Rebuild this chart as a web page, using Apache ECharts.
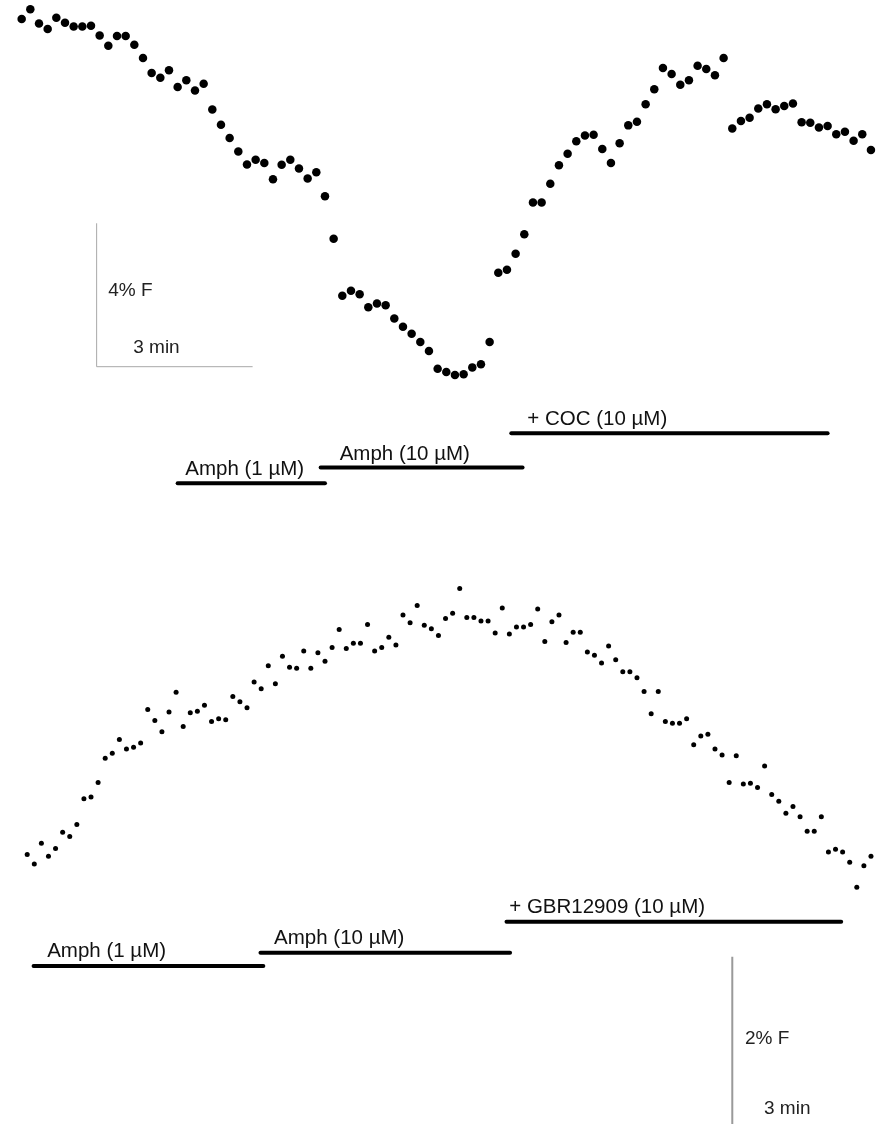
<!DOCTYPE html>
<html>
<head>
<meta charset="utf-8">
<script src="https://cdn.jsdelivr.net/npm/echarts@6/dist/echarts.min.js"></script>
<style>
html,body{margin:0;padding:0;background:#ffffff;}
#chart{width:877px;height:1124px;}
</style>
</head>
<body>
<div id="chart"></div>
<script>
// ---------------- DATA ----------------
// Sampling interval of both recordings (seconds)
const SAMPLE_S = 10;

// Top recording: relative fluorescence (% F), one sample every 10 s
const topF = [
  10.63, 10.90, 10.50, 10.35, 10.66, 10.52, 10.42, 10.42, 10.44, 10.17,
  9.88, 10.15, 10.15, 9.91, 9.54, 9.12, 8.99, 9.20, 8.73, 8.92,
  8.63, 8.82, 8.10, 7.68, 7.31, 6.93, 6.57, 6.70, 6.61, 6.16,
  6.56, 6.70, 6.46, 6.18, 6.35, 5.68, 4.50, 2.91, 3.05, 2.95,
  2.59, 2.69, 2.64, 2.27, 2.04, 1.85, 1.62, 1.37, 0.87, 0.78,
  0.70, 0.72, 0.91, 1.00, 1.62, 3.55, 3.63, 4.08, 4.62, 5.51,
  5.51, 6.03, 6.55, 6.87, 7.22, 7.38, 7.40, 7.00, 6.61, 7.16,
  7.66, 7.76, 8.25, 8.67, 9.26, 9.09, 8.79, 8.92, 9.32, 9.23,
  9.06, 9.54, 7.57, 7.78, 7.87, 8.13, 8.25, 8.11, 8.20, 8.27,
  7.75, 7.73, 7.60, 7.64, 7.41, 7.48, 7.23, 7.41, 6.97
];

// Bottom recording: relative fluorescence (% F), one sample every 10 s
const bottomF = [
  0.53, 0.42, 0.66, 0.51, 0.60, 0.79, 0.74, 0.88, 1.18, 1.20,
  1.37, 1.65, 1.71, 1.87, 1.76, 1.78, 1.83, 2.22, 2.09, 1.96,
  2.19, 2.42, 2.02, 2.18, 2.20, 2.27, 2.08, 2.11, 2.10, 2.37,
  2.31, 2.24, 2.54, 2.46, 2.73, 2.52, 2.84, 2.71, 2.70, 2.90,
  2.70, 2.88, 2.78, 2.94, 3.15, 2.93, 2.99, 2.99, 3.21, 2.90,
  2.94, 3.06, 2.97, 3.32, 3.23, 3.43, 3.20, 3.16, 3.08, 3.28,
  3.34, 3.63, 3.29, 3.29, 3.25, 3.25, 3.11, 3.40, 3.10, 3.18,
  3.18, 3.21, 3.39, 3.01, 3.24, 3.32, 3.00, 3.12, 3.12, 2.89,
  2.85, 2.76, 2.96, 2.80, 2.66, 2.66, 2.59, 2.43, 2.17, 2.43,
  2.08, 2.06, 2.06, 2.11, 1.81, 1.91, 1.93, 1.76, 1.69, 1.37,
  1.68, 1.35, 1.36, 1.31, 1.56, 1.23, 1.15, 1.01, 1.09, 0.97,
  0.80, 0.80, 0.97, 0.56, 0.59, 0.56, 0.44, 0.15, 0.40, 0.51,
  0.53
];

// Drug application periods (seconds from first sample)
const topPeriodLabels = ['Amph (1 µM)', 'Amph (10 µM)', '+ COC (10 µM)'];
const topPeriodStart  = [180, 345, 565];
const topPeriodEnd    = [350, 578, 930];

const bottomPeriodLabels = ['Amph (1 µM)', 'Amph (10 µM)', '+ GBR12909 (10 µM)'];
const bottomPeriodStart  = [9, 329, 676];
const bottomPeriodEnd    = [333, 681, 1148];

// Scale bars
const topScaleLabels    = ['4% F', '3 min'];
const topScaleSize      = [4, 180];   // % F, seconds
const bottomScaleLabels = ['2% F', '3 min'];
const bottomScaleSize   = [2, 180];   // % F, seconds

// ---------------- LAYOUT / STYLE ----------------
const FONT = '"Liberation Sans", Arial, Helvetica, sans-serif';
const layout = {
  top:    { grid: {left: 0,  top: 0,   width: 877, height: 530},
            x: [-25, 987], y: [-3.626, 11.157],
            rows: [-2.324, -1.883, -0.929], labelDx: [7.6, 19, 16], labelGap: 6.5,
            scaleCorner: [86.5, 0.929],
            scaleText: [[11.6, -76], [36.6, -19.3]],
            scaleColor: '#a8a8a8', scaleWidth: 1,
            dot: 8.5 },
  bottom: { grid: {left: 27, top: 530, width: 850, height: 594},
            x: [-0.28, 1198.5], y: [-2.609, 4.310],
            rows: [-0.769, -0.614, -0.253], labelDx: [13.6, 13.6, 2.7], labelGap: 7.3,
            scaleCorner: [994.4, -2.660],
            scaleText: [[12.7, -89.3], [31.7, -19.3]],
            scaleColor: '#9a9a9a', scaleWidth: 2,
            dot: 5 }
};

function toXY(values) {
  return values.map((v, i) => [i * SAMPLE_S, v]);
}

function periodSeries(gridIdx, labels, starts, ends, cfg) {
  const data = labels.map((l, i) => [starts[i], ends[i], cfg.rows[i], i]);
  return {
    type: 'custom', xAxisIndex: gridIdx, yAxisIndex: gridIdx, silent: true, clip: false,
    data: data,
    renderItem: function (params, api) {
      const i = api.value(3);
      const p1 = api.coord([api.value(0), api.value(2)]);
      const p2 = api.coord([api.value(1), api.value(2)]);
      const fs = 20.5;
      return {
        type: 'group',
        children: [
          { type: 'line', shape: {x1: p1[0], y1: p1[1], x2: p2[0], y2: p2[1]},
            style: {stroke: '#000', lineWidth: 4, lineCap: 'round'} },
          { type: 'text', x: p1[0] + cfg.labelDx[i], y: p1[1] - cfg.labelGap - 0.3465 * fs,
            style: {text: labels[i], fill: '#111', font: fs + 'px ' + FONT,
                    align: 'left', verticalAlign: 'middle'} }
        ]
      };
    }
  };
}

function scaleSeries(gridIdx, labels, size, cfg) {
  return {
    type: 'custom', xAxisIndex: gridIdx, yAxisIndex: gridIdx, silent: true, clip: false,
    data: [[cfg.scaleCorner[0], cfg.scaleCorner[1], size[0], size[1]]],
    renderItem: function (params, api) {
      const c = api.coord([api.value(0), api.value(1)]);
      const t = api.coord([api.value(0), api.value(1) + api.value(2)]);
      const r = api.coord([api.value(0) + api.value(3), api.value(1)]);
      const fs = 19;
      return {
        type: 'group',
        children: [
          { type: 'polyline', shape: {points: [[t[0], t[1]], [c[0], c[1]], [r[0], r[1]]]},
            style: {stroke: cfg.scaleColor, lineWidth: cfg.scaleWidth, fill: null} },
          { type: 'text', x: c[0] + cfg.scaleText[0][0], y: c[1] + cfg.scaleText[0][1],
            style: {text: labels[0], fill: '#222', font: fs + 'px ' + FONT,
                    align: 'left', verticalAlign: 'middle'} },
          { type: 'text', x: c[0] + cfg.scaleText[1][0], y: c[1] + cfg.scaleText[1][1],
            style: {text: labels[1], fill: '#222', font: fs + 'px ' + FONT,
                    align: 'left', verticalAlign: 'middle'} }
        ]
      };
    }
  };
}

const hiddenAxis = (range, gridIndex) => ({
  type: 'value', gridIndex: gridIndex, min: range[0], max: range[1],
  show: false, splitLine: {show: false}
});

const option = {
  animation: false,
  backgroundColor: '#ffffff',
  grid: [layout.top.grid, layout.bottom.grid],
  xAxis: [hiddenAxis(layout.top.x, 0), hiddenAxis(layout.bottom.x, 1)],
  yAxis: [hiddenAxis(layout.top.y, 0), hiddenAxis(layout.bottom.y, 1)],
  series: [
    { type: 'scatter', xAxisIndex: 0, yAxisIndex: 0, data: toXY(topF),
      symbol: 'circle', symbolSize: layout.top.dot,
      itemStyle: {color: '#000', opacity: 1}, silent: true, clip: true },
    { type: 'scatter', xAxisIndex: 1, yAxisIndex: 1, data: toXY(bottomF),
      symbol: 'circle', symbolSize: layout.bottom.dot,
      itemStyle: {color: '#000', opacity: 1}, silent: true, clip: true },
    periodSeries(0, topPeriodLabels, topPeriodStart, topPeriodEnd, layout.top),
    periodSeries(1, bottomPeriodLabels, bottomPeriodStart, bottomPeriodEnd, layout.bottom),
    scaleSeries(0, topScaleLabels, topScaleSize, layout.top),
    scaleSeries(1, bottomScaleLabels, bottomScaleSize, layout.bottom)
  ]
};

const chart = echarts.init(document.getElementById('chart'), null, {renderer: 'canvas'});
chart.setOption(option);
</script>
</body>
</html>
